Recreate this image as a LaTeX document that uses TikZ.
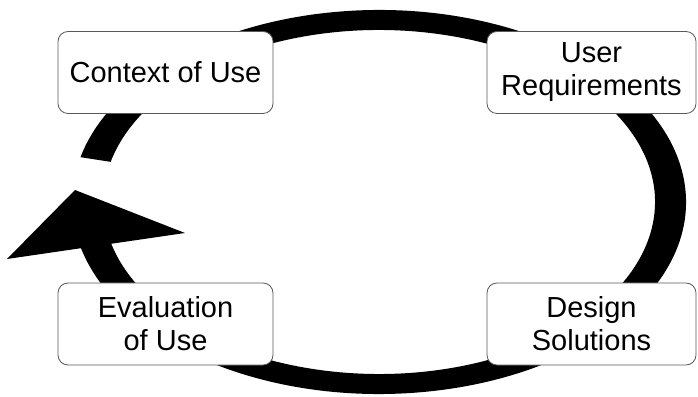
\documentclass[tikz,border=0pt]{standalone}
\usepackage{fontspec}
\setmainfont{Liberation Sans}
\usepackage{tikz}
\usetikzlibrary{positioning,calc}
\colorlet{ringcolor}{black}
\colorlet{boxdraw}{black!65}

\begin{document}
\begin{tikzpicture}[x=1pt,y=1pt,every node/.style={font=\fontsize{29}{33}\selectfont},
    stagebox/.style={draw=boxdraw,fill=white,line width=.8pt,rounded corners=10pt,align=center,minimum height=82pt,inner sep=0pt}]
    \useasboundingbox (0,0) rectangle (698,396);
    \coordinate (hub) at (379,194);
    % ring, open on the left
    \fill[ringcolor] ($(hub)+(-170:307 and 192)$) arc[start angle=-170,end angle=166.5,x radius=307,y radius=192]
      -- ($(hub)+(166.5:276 and 172)$) arc[start angle=166.5,end angle=-170,x radius=276,y radius=172] -- cycle;
    % arrowhead
    \fill[ringcolor] (75,206) -- (185,163) -- (7,137) -- cycle;
    \node[stagebox,minimum width=215pt] (ctx) at (165.5,323.5) {Context of Use};
    \node[stagebox,minimum width=209pt] (req) at (591.5,323.5) {User\\Requirements};
    \node[stagebox,minimum width=209pt] (design) at (591.5,72) {Design\\Solutions};
    \node[stagebox,minimum width=215pt] (eval) at (165.5,72) {Evaluation\\of Use};
\end{tikzpicture}
\end{document}
